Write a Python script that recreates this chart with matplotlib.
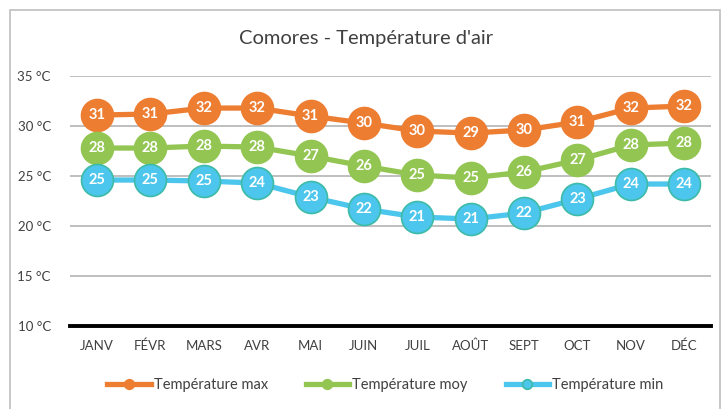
import matplotlib
matplotlib.use("Agg")
import matplotlib.pyplot as plt
from matplotlib.patches import Rectangle

months = ["JANV", "FÉVR", "MARS", "AVR", "MAI", "JUIN", "JUIL", "AOÛT", "SEPT", "OCT", "NOV", "DÉC"]

# temperatures
t_max = [31.1, 31.2, 31.8, 31.8, 31.0, 30.3, 29.5, 29.3, 29.6, 30.4, 31.8, 32.0]
t_moy = [27.8, 27.8, 28.0, 27.9, 27.0, 26.0, 25.1, 24.8, 25.4, 26.6, 28.1, 28.3]
t_min = [24.6, 24.6, 24.5, 24.3, 22.9, 21.7, 20.9, 20.7, 21.3, 22.7, 24.2, 24.2]

# labels as printed on the markers
lbl_max = [31, 31, 32, 32, 31, 30, 30, 29, 30, 31, 32, 32]
lbl_moy = [28, 28, 28, 28, 27, 26, 25, 25, 26, 27, 28, 28]
lbl_min = [25, 25, 25, 24, 23, 22, 21, 21, 22, 23, 24, 24]

y_ticks = [10, 15, 20, 25, 30, 35]

series = [
    ("Température max", t_max, lbl_max, "#ED7D31", "#ED7D31"),
    ("Température moy", t_moy, lbl_moy, "#92C551", "#92C551"),
    ("Température min", t_min, lbl_min, "#4CC6EC", "#3DBBA6"),
]

plt.rcParams["font.family"] = ["Lato", "DejaVu Sans"]

fig = plt.figure(figsize=(7.24, 4.09), dpi=100)
fig.patches.append(Rectangle((10 / 724, -0.1), 710 / 724, 1.1 - 10 / 409, transform=fig.transFigure,
                             fill=False, edgecolor="#BFBFBF", linewidth=1.2))

ax = fig.add_axes([0.097, 0.203, 0.885, 0.611])
x = list(range(len(months)))

for name, vals, lbls, col, edge in series:
    ax.plot(x, vals, color=col, linewidth=3.8, marker="o", markersize=23,
            markerfacecolor=col, markeredgecolor=edge, markeredgewidth=1.2,
            label=name, zorder=3)
    for xi, v, l in zip(x, vals, lbls):
        ax.text(xi, v, str(l), color="white", fontsize=10.5, fontweight="bold",
                ha="center", va="center", zorder=4)

ax.set_xlim(-0.5, len(months) - 0.5)
ax.set_ylim(10, 35)
ax.set_yticks(y_ticks)
ax.set_yticklabels([f"{t} °C" for t in y_ticks], fontsize=9.5, color="#404040")
ax.set_xticks(x)
ax.set_xticklabels(months, fontsize=9.5, color="#404040")
ax.tick_params(length=0, pad=10)
ax.tick_params(axis="y", pad=14)
ax.grid(axis="y", color="#BFBFBF", linewidth=1.4, zorder=0)
for s in ["top", "right", "left"]:
    ax.spines[s].set_visible(False)
ax.spines["bottom"].set_color("black")
ax.spines["bottom"].set_linewidth(2.8)

fig.text(0.505, 0.905, "Comores - Température d'air", ha="center", va="center",
         fontsize=14.5, color="#404040")

handles, labels = ax.get_legend_handles_labels()
leg = fig.legend(handles, labels, loc="center", bbox_to_anchor=(0.532, 0.058), ncol=3,
                 frameon=False, fontsize=10.5, handlelength=3.0, columnspacing=2.6,
                 handletextpad=0.2, markerscale=0.3)
for t in leg.get_texts():
    t.set_color("#404040")

fig.savefig("out.png", dpi=100)
